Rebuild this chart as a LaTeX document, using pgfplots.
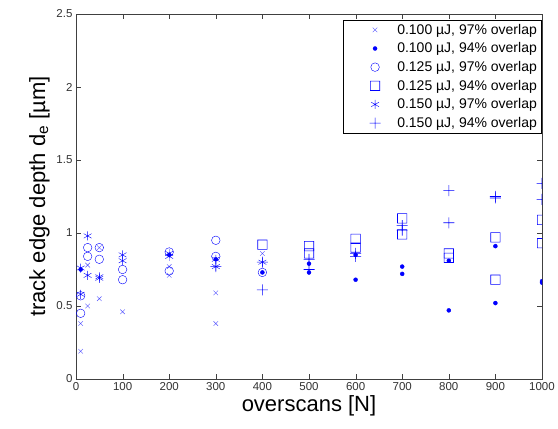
\documentclass[border=0pt]{standalone}
\usepackage{fontspec}
\setmainfont{Liberation Sans}
\usepackage{pgfplots}
\pgfplotsset{compat=1.18}
\definecolor{mblue}{RGB}{0,0,255}
\definecolor{lblue}{RGB}{80,80,255}
% square and plus marks drawn as filled outlines
\pgfdeclareplotmark{bsq}{%
  \pgfpathrectangle{\pgfqpoint{-\pgfplotmarksize}{-\pgfplotmarksize}}%
    {\pgfqpoint{2\pgfplotmarksize}{2\pgfplotmarksize}}%
  \pgfpathrectangle{\pgfqpoint{\dimexpr-\pgfplotmarksize+0.6pt\relax}{\dimexpr-\pgfplotmarksize+0.6pt\relax}}%
    {\pgfqpoint{\dimexpr2\pgfplotmarksize-1.2pt\relax}{\dimexpr2\pgfplotmarksize-1.2pt\relax}}%
  \pgfseteorule\pgfusepathqfill}
\pgfdeclareplotmark{bplus}{%
  \pgfpathrectangle{\pgfqpoint{-\pgfplotmarksize}{-0.3pt}}%
    {\pgfqpoint{2\pgfplotmarksize}{0.6pt}}%
  \pgfpathrectangle{\pgfqpoint{-0.3pt}{-\pgfplotmarksize}}%
    {\pgfqpoint{0.6pt}{2\pgfplotmarksize}}%
  \pgfusepathqfill}

\begin{document}
\begin{tikzpicture}
\path[use as bounding box] (0,0) rectangle (558pt,429pt);
\begin{axis}[
    at={(76pt,50pt)}, anchor=south west,
    scale only axis, width=466pt, height=365pt,
    xmin=0, xmax=1000, ymin=0, ymax=2.5,
    xtick={0,100,...,1000}, ytick={0,0.5,1,1.5,2,2.5},
    yticklabels={0,0.5,1,1.5,2,2.5},
    tick align=inside, major tick length=5pt,
    axis line style={black!75}, tick style={black!75},
    /pgf/number format/assume math mode=true,
    /pgf/number format/set thousands separator={},
    tick label style={font=\fontsize{11.5}{13}\selectfont, text=black!80},
    xlabel={overscans [N]},
    ylabel={track edge depth d\textsubscript{e} [µm]},
    label style={font=\fontsize{22}{24}\selectfont},
    xlabel style={yshift=2pt},
    clip marker paths=true,
    legend cell align=left,
    legend style={at={(rel axis cs:0.998,0.984)}, anchor=north east,
                  draw=black, font=\fontsize{14}{16}\selectfont,
                  row sep=3pt, inner sep=2pt},
    legend image code/.code={\path (0pt,0pt) (50pt,0pt);
        \draw[mark repeat=2,mark phase=2]
        plot coordinates {(0pt,0pt)(30pt,0pt)(60pt,0pt)};},
]
\addplot[only marks, color=lblue, mark=x, mark size=3.2pt,
         mark options={draw=lblue}] coordinates {
  (10,0.19) (10,0.38) (25,0.78) (25,0.50) (50,0.90) (50,0.55) (100,0.46)
  (200,0.77) (200,0.71) (300,0.59) (300,0.38) (400,0.86)
};
\addlegendentry{0.100 µJ, 97\% overlap}
\addplot[only marks, color=mblue, mark=*, mark size=2pt,
         mark options={draw=mblue, fill=mblue}] coordinates {
  (10,0.75) (200,0.85) (300,0.82) (400,0.73) (500,0.79) (500,0.73)
  (600,0.85) (600,0.68) (700,0.77) (700,0.72) (800,0.81) (800,0.47)
  (900,0.91) (900,0.52) (1000,0.67) (1000,0.66)
};
\addlegendentry{0.100 µJ, 94\% overlap}
\addplot[only marks, color=mblue, mark=o, mark size=4.3pt,
         mark options={draw=mblue}] coordinates {
  (10,0.57) (10,0.45) (25,0.90) (25,0.84) (50,0.90) (50,0.82)
  (100,0.75) (100,0.68) (200,0.87) (200,0.74) (300,0.95) (300,0.84)
  (400,0.73)
};
\addlegendentry{0.125 µJ, 97\% overlap}
\addplot[only marks, color=mblue, mark=bsq, mark size=5pt,
         mark options={fill=mblue}] coordinates {
  (400,0.92) (500,0.91) (500,0.86) (600,0.96) (600,0.90) (700,1.10)
  (700,0.99) (800,0.86) (800,0.83) (900,0.97) (900,0.68) (1000,1.09)
  (1000,0.93)
};
\addlegendentry{0.125 µJ, 94\% overlap}
\addplot[only marks, color=mblue, mark=asterisk, mark size=4.5pt,
         mark options={draw=mblue}] coordinates {
  (10,0.76) (10,0.58) (25,0.98) (25,0.71) (50,0.70) (50,0.69)
  (100,0.85) (100,0.81) (200,0.86) (200,0.84) (300,0.82) (300,0.77)
  (400,0.80)
};
\addlegendentry{0.150 µJ, 97\% overlap}
\addplot[only marks, color=mblue, mark=bplus, mark size=5.5pt,
         mark options={fill=mblue}] coordinates {
  (300,0.77) (400,0.80) (400,0.61) (500,0.82) (500,0.75) (600,0.86)
  (600,0.84) (700,1.05) (700,1.02) (800,1.29) (800,1.07) (900,1.25)
  (900,1.24) (1000,1.34) (1000,1.23)
};
\addlegendentry{0.150 µJ, 94\% overlap}
\end{axis}
\end{tikzpicture}
\end{document}
